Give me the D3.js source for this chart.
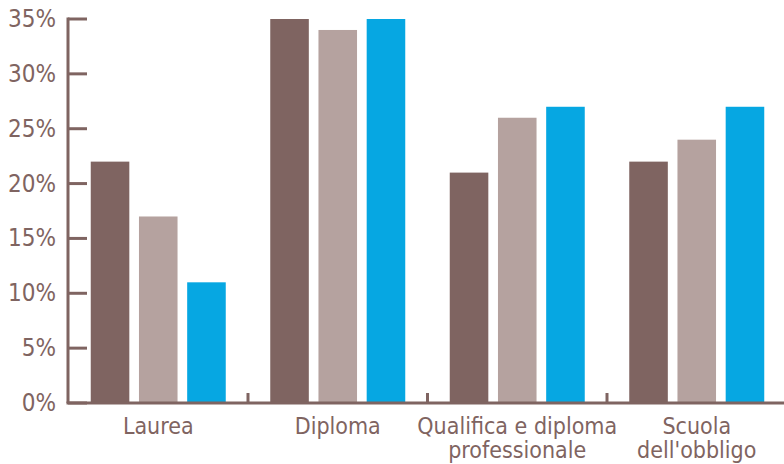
<!DOCTYPE html>
<html lang="it">
<head>
	<meta charset="UTF-8">
	<title>Titolo di studio</title>
	<style>
		body { margin: 0; background: #fff; }
		svg text { font-family: "DejaVu Sans Condensed", "DejaVu Sans", sans-serif; fill: #7f6461; }
	</style>
</head>
<body>
	<svg width="784" height="464"></svg>
	<script src="https://cdn.jsdelivr.net/npm/d3@7"></script>
	<script>
		// categorie e serie (valori in %)
		var categories = [["Laurea"], ["Diploma"], ["Qualifica e diploma", "professionale"], ["Scuola", "dell'obbligo"]];
		var series1 = [22, 35, 21, 22];
		var series2 = [17, 34, 26, 24];
		var series3 = [11, 35, 27, 27];
		var yTicks = [0, 5, 10, 15, 20, 25, 30, 35];
		var colors = ["#7f6461", "#b5a29f", "#06a7e2"];

		var svg = d3.select("svg");
		var axisColor = "#7f6461";
		var mLeft = 68, mTop = 19, mBottom = 403;

		var x = d3.scaleBand().domain(d3.range(categories.length)).range([68.5, 786.5]);
		var xs = d3.scaleBand().domain([0, 1, 2]).range([0, 135]).paddingInner(0.2);
		var y = d3.scaleLinear().domain([0, 35]).range([mBottom, mTop]);

		var allSeries = [series1, series2, series3];

		// barre
		allSeries.forEach(function(s, si) {
			svg.append("g").selectAll("rect")
				.data(s)
				.enter().append("rect")
				.attr("x", function(d, i) { return x(i) + (x.bandwidth() - 135) / 2 + xs(si); })
				.attr("width", xs.bandwidth())
				.attr("y", function(d) { return y(d); })
				.attr("height", function(d) { return mBottom - y(d); })
				.style("fill", colors[si]);
		});

		// asse y
		svg.append("line")
			.attr("x1", mLeft).attr("x2", mLeft)
			.attr("y1", y(35) - 1.5).attr("y2", mBottom)
			.style("stroke", axisColor).style("stroke-width", 3);
		svg.append("g").selectAll("line")
			.data(yTicks)
			.enter().append("line")
			.attr("x1", mLeft).attr("x2", mLeft + 19)
			.attr("y1", function(d) { return y(d); }).attr("y2", function(d) { return y(d); })
			.style("stroke", axisColor).style("stroke-width", 3);
		svg.append("g").selectAll("text")
			.data(yTicks)
			.enter().append("text")
			.attr("x", 56)
			.attr("y", function(d) { return y(d) + 8; })
			.attr("text-anchor", "end")
			.style("font-size", "24px")
			.text(function(d) { return d + "%"; });

		// asse x
		svg.append("line")
			.attr("x1", mLeft - 1.5).attr("x2", 784)
			.attr("y1", mBottom).attr("y2", mBottom)
			.style("stroke", axisColor).style("stroke-width", 3);
		svg.append("g").selectAll("line")
			.data(d3.range(1, categories.length))
			.enter().append("line")
			.attr("x1", function(d) { return x(d); }).attr("x2", function(d) { return x(d); })
			.attr("y1", mBottom).attr("y2", mBottom - 10)
			.style("stroke", axisColor).style("stroke-width", 3);

		var labels = svg.append("g").selectAll("text")
			.data(categories)
			.enter().append("text")
			.attr("text-anchor", "middle")
			.style("font-size", "23px");
		labels.selectAll("tspan")
			.data(function(d, i) { return d.map(function(t) { return { t: t, i: i }; }); })
			.enter().append("tspan")
			.attr("x", function(d) { return x(d.i) + x.bandwidth() / 2; })
			.attr("y", function(d, j) { return 434 + j * 24; })
			.text(function(d) { return d.t; });
	</script>
</body>
</html>
